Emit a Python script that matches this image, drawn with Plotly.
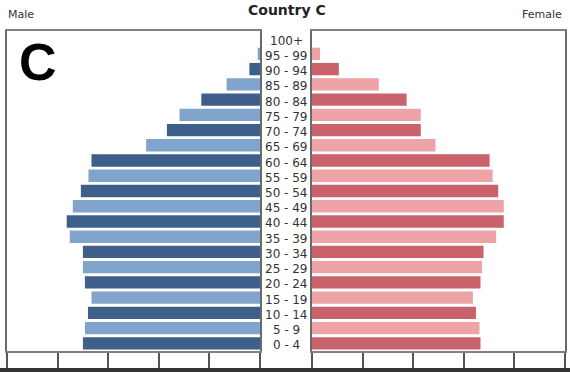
import plotly.graph_objects as go

age_groups = ["0 - 4", "5 - 9", "10 - 14", "15 - 19", "20 - 24", "25 - 29", "30 - 34",
              "35 - 39", "40 - 44", "45 - 49", "50 - 54", "55 - 59", "60 - 64", "65 - 69",
              "70 - 74", "75 - 79", "80 - 84", "85 - 89", "90 - 94", "95 - 99", "100+"]
male = [3.50, 3.46, 3.40, 3.33, 3.46, 3.50, 3.50, 3.76, 3.82, 3.70, 3.54, 3.39, 3.33,
        2.25, 1.84, 1.59, 1.16, 0.66, 0.21, 0.045, 0.0]
female = [3.33, 3.31, 3.24, 3.18, 3.33, 3.36, 3.39, 3.64, 3.79, 3.79, 3.68, 3.57, 3.51,
          2.44, 2.15, 2.15, 1.87, 1.32, 0.53, 0.16, 0.0]
tick_vals = [0, 1, 2, 3, 4, 5]

male_colors = ["#3e5f8a" if i % 2 == 0 else "#80a4cc" for i in range(len(age_groups))]
female_colors = ["#c9626a" if i % 2 == 0 else "#eea3a7" for i in range(len(age_groups))]

W, H = 570, 372
top, bottom = 31, 351

fig = go.Figure()
fig.add_trace(go.Bar(y=age_groups, x=male, orientation="h", marker=dict(color=male_colors, line=dict(width=0)),
                     xaxis="x", yaxis="y", showlegend=False))
fig.add_trace(go.Bar(y=age_groups, x=female, orientation="h", marker=dict(color=female_colors, line=dict(width=0)),
                     xaxis="x2", yaxis="y2", showlegend=False))

ydom = [(H - bottom) / H, (H - top) / H]
common_x = dict(tickvals=tick_vals, showticklabels=False, ticks="outside", ticklen=16,
                tickcolor="#555555", tickwidth=1.5, showgrid=False, zeroline=False,
                showline=True, linecolor="#808080", linewidth=1.5, mirror=True, fixedrange=True,
                layer="below traces")
common_y = dict(type="category", categoryorder="array", categoryarray=age_groups, range=[-0.5, 20.5],
                showticklabels=False, ticks="", showgrid=False, zeroline=False,
                showline=True, linecolor="#6a6a6a", linewidth=1.5, mirror=True,
                layer="below traces", domain=ydom, fixedrange=True)

fig.update_layout(
    width=W, height=H,
    margin=dict(l=0, r=0, t=0, b=0),
    paper_bgcolor="white", plot_bgcolor="white",
    bargap=0.19,
    xaxis=dict(domain=[7 / W, 260 / W], range=[5, 0], anchor="y", **common_x),
    xaxis2=dict(domain=[312 / W, 565 / W], range=[0, 5], anchor="y2", **common_x),
    yaxis=dict(anchor="x", **common_y),
    yaxis2=dict(anchor="x2", **common_y),
    font=dict(family="DejaVu Sans", color="#333333"),
)

annotations = []
for ag in age_groups:
    annotations.append(dict(x=286 / W, xref="paper", y=ag, yref="y", text=ag, showarrow=False,
                            xanchor="center", yanchor="middle", yshift=-2,
                            font=dict(size=12, color="#333333")))
annotations += [
    dict(x=287 / W, y=1 - 10 / H, xref="paper", yref="paper", text="<b>Country C</b>", showarrow=False,
         xanchor="center", yanchor="middle", font=dict(size=14, color="#222222")),
    dict(x=6 / W, y=1 - 15 / H, xref="paper", yref="paper", text="Male", showarrow=False,
         xanchor="left", yanchor="middle", font=dict(size=11, color="#333333")),
    dict(x=564 / W, y=1 - 15 / H, xref="paper", yref="paper", text="Female", showarrow=False,
         xanchor="right", yanchor="middle", font=dict(size=11, color="#333333")),
    dict(x=17 / W, y=1 - 62 / H, xref="paper", yref="paper", text="<b>C</b>", showarrow=False,
         xanchor="left", yanchor="middle", font=dict(size=52, color="#000000", family="Liberation Sans")),
]
fig.update_layout(annotations=annotations)
fig.add_shape(type="rect", xref="paper", yref="paper", x0=0, x1=1, y0=0, y1=4 / H,
              fillcolor="#333333", line=dict(width=0), layer="above")

fig.write_html("out.html", config={"displayModeBar": False},
               post_script="document.body.style.margin='0';document.body.style.overflow='hidden';")
